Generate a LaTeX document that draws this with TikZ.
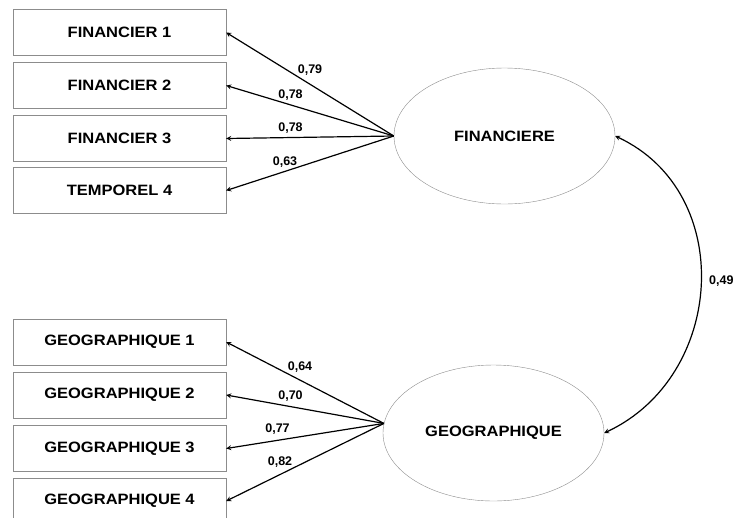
\documentclass[tikz,border=0pt]{standalone}
\usepackage{fontspec}
\usetikzlibrary{shapes.geometric}
\newfontfamily\wide[FakeStretch=1.1]{Liberation Sans}
\newfontfamily\plain{Liberation Sans}
\newcommand{\itemfont}{\wide\bfseries\fontsize{15}{17}\selectfont}
\newcommand{\loadfont}{\plain\bfseries\fontsize{12.5}{14}\selectfont}
\begin{document}
\begin{tikzpicture}[x=1pt,y=-1pt,>=stealth]
  \tikzstyle{item}=[draw=gray!90, minimum width=213pt, minimum height=46pt, inner sep=0pt, font=\itemfont]
  \tikzstyle{factor}=[draw=gray!90, ellipse, minimum width=221pt, minimum height=136pt, inner sep=0pt, font=\itemfont]
  \tikzstyle{load}=[inner sep=0pt, font=\loadfont]
  \tikzstyle{path}=[->, line width=1.2pt]
  \useasboundingbox (0,0) rectangle (733,517);

  % indicateurs
  \node[item] (f1) at (119.5,32.5) {FINANCIER 1};
  \node[item] (f2) at (119.5,85.5) {FINANCIER 2};
  \node[item] (f3) at (119.5,138.5) {FINANCIER 3};
  \node[item] (f4) at (119.5,190.5) {TEMPOREL 4};
  \node[item] (g1) at (119.5,342) {GEOGRAPHIQUE 1};
  \node[item] (g2) at (119.5,395) {GEOGRAPHIQUE 2};
  \node[item] (g3) at (119.5,448.5) {GEOGRAPHIQUE 3};
  \node[item] (g4) at (119.5,501) {GEOGRAPHIQUE 4};

  % facteurs
  \node[factor] (fin) at (504.5,136) {FINANCIERE};
  \node[factor] (geo) at (493.5,433) {GEOGRAPHIQUE};

  \draw[path] (fin.west) -- (f1.east);
  \draw[path] (fin.west) -- (f2.east);
  \draw[path] (fin.west) -- (f3.east);
  \draw[path] (fin.west) -- (f4.east);
  \draw[path] (geo.175) -- (g1.east);
  \draw[path] (geo.175) -- (g2.east);
  \draw[path] (geo.175) -- (g3.east);
  \draw[path] (geo.175) -- (g4.east);

  \node[load] (l1) at (310,70) {0,79};
  \node[load] (l2) at (290.5,95) {0,78};
  \node[load] (l3) at (290.5,128) {0,78};
  \node[load] (l4) at (285,162) {0,63};
  \node[load] (m1) at (300,367) {0,64};
  \node[load] (m2) at (290.5,396) {0,70};
  \node[load] (m3) at (277.5,429) {0,77};
  \node[load] (m4) at (280,462) {0,82};

  % covariance
  \draw[<->, line width=1.2pt] (fin.east) to[out=-25, in=25, looseness=1.15] (geo.east);
  \node[load, anchor=west] (cov) at (709,281) {0,49};
\end{tikzpicture}
\end{document}
